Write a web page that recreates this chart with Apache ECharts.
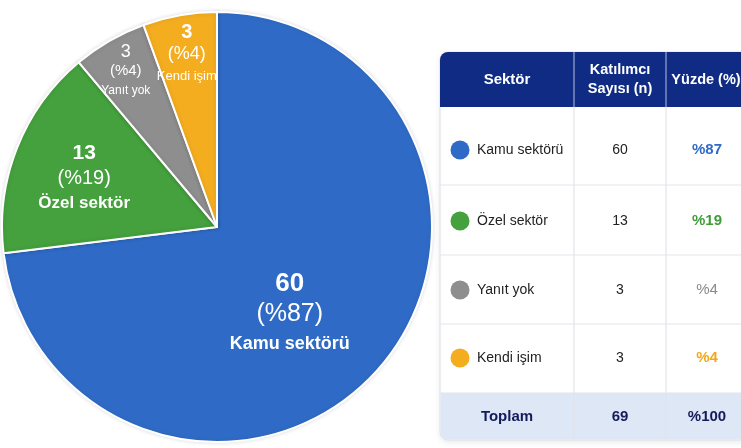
<!DOCTYPE html>
<html>
<head>
<meta charset="utf-8">
<script src="https://cdn.jsdelivr.net/npm/echarts@6/dist/echarts.min.js"></script>
<style>
    html, body { margin: 0; padding: 0; background: #fff; }
    #main { width: 741px; height: 448px; }
</style>
</head>
<body>
<div id="main"></div>
<script>
// veriler
var sektorler = ['Kamu sektörü', 'Özel sektör', 'Yanıt yok', 'Kendi işim'];
var katilimci = [60, 13, 3, 3];
var yuzde = [87, 19, 4, 4];
var toplamN = 69;
var toplamYuzde = 100;
var basliklar = ['Sektör', 'Katılımcı\nSayısı (n)', 'Yüzde (%)'];
var renkler = ['#2F6BC6', '#45A03E', '#8E8E8E', '#F3AD1F'];
var yuzdeRenk = ['#2F6BC6', '#3F9C39', '#8A8A8A', '#F2A81C'];

var FONT = '"Liberation Sans", Arial, sans-serif';

// dilim etiket boyutlari: [deger, yuzde, isim, satir, isim kalin mi]
var etiketBoyut = [[26, 25, 18, 30, 1], [21, 20, 17, 25, 1], [18, 15, 12, 19, 0], [20, 18, 13, 22, 0]];
var etiketKayma = [[-10, 14], [-30, -8], [-36, -60], [-11, -64]];

var myChart = echarts.init(document.getElementById('main'));

var pieData = sektorler.map(function (ad, i) {
    var b = etiketBoyut[i];
    return {
        name: ad,
        value: katilimci[i],
        itemStyle: { color: renkler[i] },
        label: {
            rich: {
                v: { fontSize: b[0], fontWeight: i === 2 ? 'normal' : 'bold', color: '#fff', lineHeight: b[3], fontFamily: FONT },
                p: { fontSize: b[1], color: '#fff', lineHeight: b[3], fontFamily: FONT },
                n: { fontSize: b[2], fontWeight: b[4] ? 'bold' : 'normal', color: '#fff', lineHeight: b[3], fontFamily: FONT }
            }
        }
    };
});

// tablo (graphic)
var kolonX = [440, 574, 666, 748];
var satirY = [52, 107, 185, 255, 324, 393, 440];
var metinY = [150, 221, 290, 358];
var lacivert = '#0F2B84';
var g = [];

g.push({
    type: 'rect', shape: { x: kolonX[0], y: satirY[0], width: kolonX[3] - kolonX[0], height: satirY[6] - satirY[0], r: 8 },
    style: { fill: '#fff', stroke: '#DCE0E8', lineWidth: 1, shadowBlur: 6, shadowColor: 'rgba(0,0,0,0.08)', shadowOffsetY: 2 }
});
g.push({
    type: 'rect', shape: { x: kolonX[0], y: satirY[0], width: kolonX[3] - kolonX[0], height: satirY[1] - satirY[0], r: [8, 0, 0, 0] },
    style: { fill: lacivert }
});
g.push({
    type: 'rect', shape: { x: kolonX[0] + 0.5, y: satirY[5], width: kolonX[3] - kolonX[0], height: satirY[6] - satirY[5] - 0.5, r: [0, 0, 0, 8] },
    style: { fill: '#DDE7F5' }
});
// yatay cizgiler
for (var r = 2; r <= 5; r++) {
    g.push({ type: 'line', shape: { x1: kolonX[0], y1: satirY[r], x2: kolonX[3], y2: satirY[r] }, style: { stroke: '#E2E5EB', lineWidth: 1.2 } });
}
// dikey cizgiler
for (var c = 1; c <= 2; c++) {
    g.push({ type: 'line', shape: { x1: kolonX[c], y1: satirY[0], x2: kolonX[c], y2: satirY[6] }, style: { stroke: '#E2E5EB', lineWidth: 1.2 } });
    g.push({ type: 'line', shape: { x1: kolonX[c], y1: satirY[0], x2: kolonX[c], y2: satirY[1] }, style: { stroke: '#3A52A0', lineWidth: 1 } });
}
// basliklar
var baslikX = [507, 620, 706];
var baslikBoyut = [15, 14.5, 14.5];
basliklar.forEach(function (b, i) {
    g.push({
        type: 'text', x: baslikX[i], y: (satirY[0] + satirY[1]) / 2,
        style: { text: b, fill: '#fff', font: 'bold ' + baslikBoyut[i] + 'px ' + FONT, align: 'center', verticalAlign: 'middle', lineHeight: 19 }
    });
});
// satirlar
sektorler.forEach(function (ad, i) {
    var y = metinY[i];
    g.push({ type: 'circle', shape: { cx: 460, cy: y, r: 9.5 }, style: { fill: renkler[i] } });
    g.push({ type: 'text', x: 477, y: y, style: { text: ad, fill: '#222', font: '14px ' + FONT, align: 'left', verticalAlign: 'middle' } });
    g.push({ type: 'text', x: 620, y: y, style: { text: String(katilimci[i]), fill: '#222', font: '14px ' + FONT, align: 'center', verticalAlign: 'middle' } });
    g.push({
        type: 'text', x: 707, y: y,
        style: { text: '%' + yuzde[i], fill: yuzdeRenk[i], font: (i === 2 ? '' : 'bold ') + '15px ' + FONT, align: 'center', verticalAlign: 'middle' }
    });
});
// toplam
var toplamY = 417;
[['Toplam', 507], [String(toplamN), 620], ['%' + toplamYuzde, 707]].forEach(function (t) {
    g.push({ type: 'text', x: t[1], y: toplamY, style: { text: t[0], fill: '#141B5C', font: 'bold 15px ' + FONT, align: 'center', verticalAlign: 'middle' } });
});

var option = {
    backgroundColor: '#fff',
    animation: false,
    series: [{
        type: 'pie',
        center: [217, 227],
        radius: 215,
        startAngle: 90,
        clockwise: true,
        minAngle: 20,
        itemStyle: {
            borderColor: '#fff',
            borderWidth: 2,
            shadowBlur: 4,
            shadowColor: 'rgba(0,0,0,0.12)'
        },
        label: {
            show: true,
            position: 'inside',
            formatter: function (p) {
                var i = p.dataIndex;
                return '{v|' + katilimci[i] + '}\n{p|(%' + yuzde[i] + ')}\n{n|' + sektorler[i] + '}';
            }
        },
        labelLine: { show: false },
        labelLayout: function (p) {
            return { dx: etiketKayma[p.dataIndex][0], dy: etiketKayma[p.dataIndex][1] };
        },
        emphasis: { disabled: true },
        data: pieData
    }],
    graphic: g
};

myChart.setOption(option);
</script>
</body>
</html>
